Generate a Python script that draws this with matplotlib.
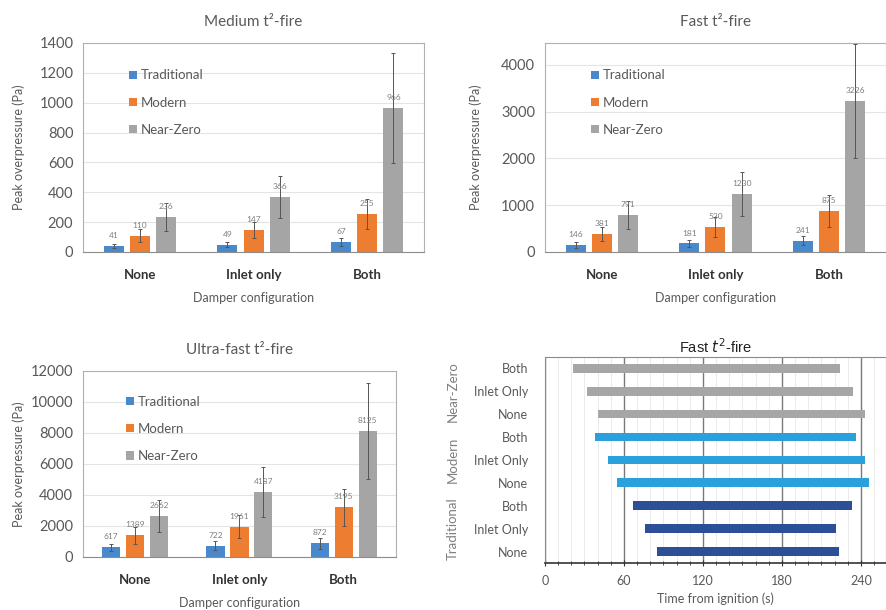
import numpy as np
import matplotlib
matplotlib.use('Agg')
from matplotlib import pyplot as plt
from matplotlib.ticker import MultipleLocator

plt.rcParams['font.family'] = ['Lato', 'DejaVu Sans']

configs = ['None', 'Inlet only', 'Both']
series = ['Traditional', 'Modern', 'Near-Zero']
colors = ['#4a88cc', '#ed7d31', '#a5a5a5']

# medium t2-fire
med_trad = [41, 49, 67]
med_mod = [110, 147, 255]
med_nz = [236, 366, 966]
med_trad_err = [15, 18, 24]
med_mod_err = [45, 55, 100]
med_nz_err = [95, 142, 368]

# fast t2-fire
fast_trad = [146, 181, 241]
fast_mod = [381, 530, 875]
fast_nz = [791, 1230, 3226]
fast_trad_err = [60, 70, 100]
fast_mod_err = [155, 215, 350]
fast_nz_err = [300, 470, 1225]

# ultra-fast t2-fire
uf_trad = [617, 722, 872]
uf_mod = [1389, 1961, 3195]
uf_nz = [2662, 4187, 8125]
uf_trad_err = [240, 280, 330]
uf_mod_err = [550, 760, 1200]
uf_nz_err = [1030, 1600, 3100]

# gantt (fast t2-fire), top to bottom
gantt_labels = ['Both', 'Inlet Only', 'None', 'Both', 'Inlet Only', 'None', 'Both', 'Inlet Only', 'None']
gantt_start = [21, 32, 40, 38, 48, 55, 67, 76, 85]
gantt_end = [224, 234, 243, 236, 243, 246, 233, 221, 223]
gantt_groups = ['Near-Zero', 'Modern', 'Traditional']
gantt_colors = ['#a6a6a6'] * 3 + ['#2aa0dc'] * 3 + ['#2c4f98'] * 3

txtgray = '#595959'


def bar_panel(ax, title, vals, errs, ymax, ystep, ylpad):
    x = np.arange(len(configs))
    w = 0.175
    offs = [-0.23, 0, 0.23]
    for i in range(3):
        ax.bar(x + offs[i], vals[i], w, color=colors[i], label=series[i], zorder=2)
        ax.errorbar(x + offs[i], vals[i], yerr=errs[i], fmt='none', ecolor='#555555',
                    elinewidth=0.7, capsize=1.5, capthick=0.7, zorder=3)
        for xi, v in zip(x + offs[i], vals[i]):
            ax.annotate(str(v), (xi, v), xytext=(0, 5), textcoords='offset points',
                        ha='center', va='bottom', fontsize=6, color='#7f7f7f', zorder=4)
    ax.set_xlim(-0.5, 2.5)
    ax.set_ylim(0, ymax)
    ax.yaxis.set_major_locator(MultipleLocator(ystep))
    ax.set_xticks(x)
    ax.set_xticklabels(configs, fontsize=9.5, fontweight='bold', color='#333333')
    ax.tick_params(axis='y', labelsize=10.5, colors=txtgray, length=0, pad=7)
    ax.tick_params(axis='x', length=0, pad=12)
    ax.grid(axis='y', color='#e4e4e4', linewidth=0.8, zorder=0)
    for s in ax.spines.values():
        s.set_color('#b0b0b0')
    ax.spines['bottom'].set_color('#8c8c8c')
    ax.set_title(title, fontsize=11, color=txtgray, pad=12)
    ax.set_ylabel('Peak overpressure (Pa)', fontsize=9, color=txtgray, labelpad=ylpad)
    ax.set_xlabel('Damper configuration', fontsize=9, color=txtgray, labelpad=8)
    ax.legend(loc='upper left', bbox_to_anchor=(0.1, 0.93), frameon=False,
              fontsize=9.5, handlelength=0.6, handleheight=0.6, handletextpad=0.3,
              labelspacing=1.15, labelcolor=txtgray)


fig = plt.figure(figsize=(8.86, 6.10), dpi=100)

ax1 = fig.add_axes([0.0937, 0.587, 0.385, 0.3426])
bar_panel(ax1, 'Medium t²-fire', [med_trad, med_mod, med_nz],
          [med_trad_err, med_mod_err, med_nz_err], 1400, 200, 10)

ax2 = fig.add_axes([0.615, 0.587, 0.385, 0.3426])
bar_panel(ax2, 'Fast t²-fire', [fast_trad, fast_mod, fast_nz],
          [fast_trad_err, fast_mod_err, fast_nz_err], 4470, 1000, 14)

ax3 = fig.add_axes([0.0937, 0.087, 0.353, 0.305])
bar_panel(ax3, 'Ultra-fast t²-fire', [uf_trad, uf_mod, uf_nz],
          [uf_trad_err, uf_mod_err, uf_nz_err], 12000, 2000, 4)

# gantt panel
ax4 = fig.add_axes([0.615, 0.077, 0.385, 0.338])
n = len(gantt_labels)
ypos = np.arange(n)[::-1]
widths = np.array(gantt_end) - np.array(gantt_start)
ax4.barh(ypos, widths, left=gantt_start, height=0.38, color=gantt_colors, zorder=3)
ax4.set_ylim(-0.5, n - 0.5)
ax4.set_xlim(0, 259)
ax4.set_yticks(ypos)
ax4.set_yticklabels(gantt_labels, fontsize=9, color=txtgray)
ax4.tick_params(axis='y', length=0, pad=12)
ax4.xaxis.set_major_locator(MultipleLocator(60))
ax4.xaxis.set_minor_locator(MultipleLocator(10))
ax4.tick_params(axis='x', which='major', direction='inout', length=5, labelsize=9,
                colors='#333333', labelcolor=txtgray, pad=6)
ax4.tick_params(axis='x', which='minor', direction='inout', length=3, color='#333333')
ax4.grid(axis='x', which='minor', color='#e8e8e8', linewidth=0.6, zorder=0)
ax4.grid(axis='x', which='major', color='#7a7a7a', linewidth=1.0, zorder=1)
for s in ['top', 'left', 'right']:
    ax4.spines[s].set_color('#8c8c8c')
ax4.spines['bottom'].set_color('#333333')
ax4.spines['bottom'].set_linewidth(1.2)
ax4.set_title(r'Fast $t^2$-fire', fontsize=10.5, family=['Liberation Sans', 'DejaVu Sans'],
              color='#222222', pad=3)
ax4.set_xlabel('Time from ignition (s)', fontsize=9, color=txtgray, labelpad=4)
for gi, g in enumerate(gantt_groups):
    yc = n - 1 - (3 * gi + 1)
    ax4.text(-0.27, yc, g, transform=ax4.get_yaxis_transform(), rotation=90,
             ha='center', va='center', fontsize=9.5, color='#7f7f7f')

fig.savefig('out.png', dpi=100)
